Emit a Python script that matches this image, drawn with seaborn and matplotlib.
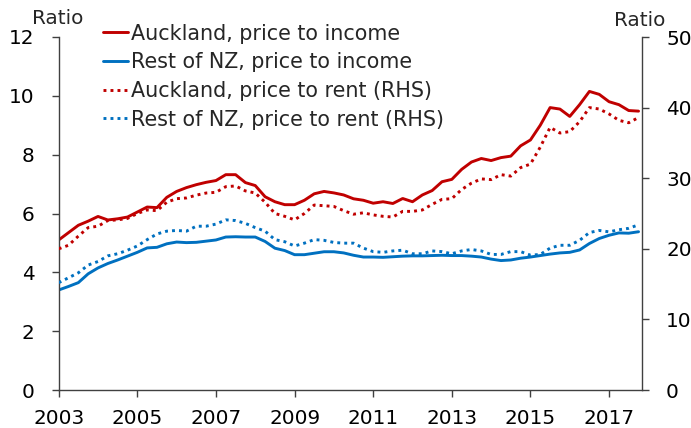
import numpy as np
import pandas as pd
import matplotlib
matplotlib.use("Agg")
import matplotlib.pyplot as plt
import seaborn as sns
from matplotlib.lines import Line2D

# ---- data (quarterly, 2003Q1 .. 2017Q4) ----
years = [2003 + q / 4 for q in range(60)]

akl_pi = [5.10, 5.35, 5.60, 5.74, 5.90, 5.78, 5.82, 5.88, 6.05, 6.22, 6.20, 6.55,
          6.75, 6.88, 6.98, 7.06, 7.12, 7.32, 7.32, 7.05, 6.95, 6.57, 6.40, 6.30,
          6.30, 6.45, 6.67, 6.75, 6.70, 6.63, 6.50, 6.45, 6.35, 6.40, 6.34, 6.51,
          6.40, 6.63, 6.78, 7.08, 7.16, 7.50, 7.75, 7.87, 7.80, 7.90, 7.95, 8.30,
          8.50, 9.00, 9.60, 9.55, 9.30, 9.70, 10.15, 10.05, 9.80, 9.70, 9.50, 9.48]

nz_pi = [3.40, 3.52, 3.65, 3.95, 4.15, 4.30, 4.42, 4.55, 4.68, 4.83, 4.85, 4.97,
         5.03, 5.01, 5.02, 5.06, 5.10, 5.20, 5.21, 5.20, 5.20, 5.05, 4.82, 4.74,
         4.60, 4.60, 4.65, 4.70, 4.70, 4.66, 4.58, 4.52, 4.52, 4.51, 4.53, 4.55,
         4.56, 4.56, 4.57, 4.58, 4.57, 4.57, 4.55, 4.52, 4.45, 4.40, 4.42, 4.48,
         4.52, 4.57, 4.62, 4.66, 4.68, 4.76, 4.98, 5.15, 5.26, 5.34, 5.33, 5.38]

akl_pr = [20.0, 20.5, 21.8, 23.0, 23.2, 24.0, 24.1, 24.3, 25.0, 25.5, 25.4, 26.6,
          27.1, 27.2, 27.6, 27.9, 28.0, 28.8, 28.9, 28.2, 27.9, 26.6, 25.0, 24.6,
          24.1, 25.0, 26.2, 26.1, 26.0, 25.4, 24.9, 25.1, 24.8, 24.6, 24.5, 25.3,
          25.3, 25.5, 26.3, 27.0, 27.1, 28.4, 29.3, 29.9, 29.8, 30.5, 30.3, 31.5,
          32.0, 34.4, 37.2, 36.4, 36.6, 38.0, 40.0, 39.8, 39.1, 38.2, 37.85, 38.6]

nz_pr = [15.2, 15.9, 16.6, 17.7, 18.2, 19.0, 19.3, 19.8, 20.4, 21.3, 22.1, 22.5,
         22.6, 22.5, 23.2, 23.2, 23.5, 24.1, 24.0, 23.6, 23.0, 22.5, 21.3, 21.0,
         20.4, 20.8, 21.3, 21.2, 20.9, 20.8, 20.8, 20.1, 19.6, 19.5, 19.7, 19.8,
         19.3, 19.3, 19.7, 19.6, 19.3, 19.7, 19.9, 19.7, 19.2, 19.2, 19.6, 19.6,
         19.1, 19.2, 20.1, 20.5, 20.5, 21.2, 22.3, 22.6, 22.4, 22.7, 22.9, 23.4]

labels = ["Auckland, price to income", "Rest of NZ, price to income",
          "Auckland, price to rent (RHS)", "Rest of NZ, price to rent (RHS)"]
xticks = [2003, 2005, 2007, 2009, 2011, 2013, 2015, 2017]
left_ticks = [0, 2, 4, 6, 8, 10, 12]
right_ticks = [0, 10, 20, 30, 40, 50]

RED = "#C00000"
BLUE = "#0070C0"
AX = "#404040"
FS = 14.4
LFS = 14.9

sns.set_theme(style="white")
plt.rcParams["font.family"] = ["DejaVu Sans"]

fig = plt.figure(figsize=(6.91, 4.28), dpi=100)
ax = fig.add_axes([58.7 / 691, 38 / 428, 583 / 691, 353 / 428])
ax2 = ax.twinx()

df = pd.DataFrame({"year": years, "akl_pi": akl_pi, "nz_pi": nz_pi,
                   "akl_pr": akl_pr, "nz_pr": nz_pr})

LW = 2.1
DOT = (0, (1, 1.4))
sns.lineplot(data=df, x="year", y="akl_pi", ax=ax, color=RED, lw=LW)
sns.lineplot(data=df, x="year", y="nz_pi", ax=ax, color=BLUE, lw=LW)
sns.lineplot(data=df, x="year", y="akl_pr", ax=ax2, color=RED, lw=LW, linestyle=DOT)
sns.lineplot(data=df, x="year", y="nz_pr", ax=ax2, color=BLUE, lw=LW, linestyle=DOT)

ax.set_xlim(2003, 2017.83)
ax.set_ylim(0, 12)
ax2.set_ylim(0, 50)
ax.set_xticks(xticks)
ax.set_yticks(left_ticks)
ax2.set_yticks(right_ticks)
for a in (ax, ax2):
    a.set_xlabel("")
    a.set_ylabel("")
    a.grid(False)
    for s in a.spines.values():
        s.set_color(AX)
        s.set_linewidth(1.0)
    a.spines["top"].set_visible(False)
ax.spines["right"].set_visible(False)
ax2.spines["left"].set_visible(False)
ax2.spines["bottom"].set_visible(False)

ax.tick_params(axis="both", direction="out", length=5, width=1.0, color=AX,
               labelsize=FS, labelcolor="black")
ax.tick_params(axis="y", left=True, right=False, pad=12.5)
ax.tick_params(axis="x", bottom=True, pad=9)
ax2.tick_params(axis="y", direction="out", length=5, width=1.0, color=AX,
                labelsize=FS, labelcolor="black", pad=12.5, right=True)

fig.text(57.5 / 691, 1 - 24.5 / 428, "Ratio", ha="center", va="baseline", fontsize=FS)
fig.text(640 / 691, 1 - 25.5 / 428, "Ratio", ha="center", va="baseline", fontsize=FS)

handles = [Line2D([], [], color=RED, lw=LW),
           Line2D([], [], color=BLUE, lw=LW),
           Line2D([], [], color=RED, lw=LW, linestyle=DOT),
           Line2D([], [], color=BLUE, lw=LW, linestyle=DOT)]
fig.legend(handles, labels, loc="upper left", bbox_to_anchor=(103.3 / 691, 1 - 23.5 / 428),
           frameon=False, fontsize=LFS, handlelength=1.2, handletextpad=0.12,
           labelspacing=0.42, borderpad=0, borderaxespad=0)

fig.savefig("out.png", dpi=100)
